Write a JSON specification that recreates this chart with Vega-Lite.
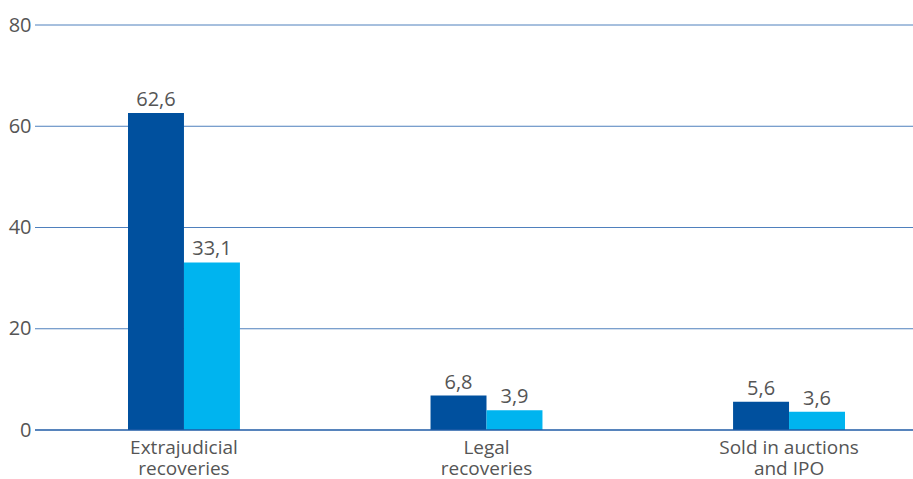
{
  "$schema": "https://vega.github.io/schema/vega-lite/v6.json",
  "width": 878,
  "height": 405,
  "autosize": {"type": "none"},
  "padding": {"left": 35, "top": 25, "right": 0, "bottom": 49},
  "background": "white",
  "datasets": {
    "bars": [
      {"category": "Extrajudicial|recoveries", "series": "A", "value": 62.6},
      {"category": "Extrajudicial|recoveries", "series": "B", "value": 33.1},
      {"category": "Legal|recoveries", "series": "A", "value": 6.8},
      {"category": "Legal|recoveries", "series": "B", "value": 3.9},
      {"category": "Sold in auctions|and IPO", "series": "A", "value": 5.6},
      {"category": "Sold in auctions|and IPO", "series": "B", "value": 3.6}
    ],
    "grid": [{"v": 20}, {"v": 40}, {"v": 60}, {"v": 80}],
    "base": [{"v": 0}]
  },
  "layer": [
    {
      "data": {"name": "grid"},
      "mark": {"type": "rule", "color": "#4F80BD", "strokeWidth": 1},
      "encoding": {
        "y": {
          "field": "v",
          "type": "quantitative",
          "title": null,
          "scale": {"domain": [0, 80]},
          "axis": {
            "values": [0, 20, 40, 60, 80],
            "domain": false,
            "ticks": false,
            "grid": false,
            "labelPadding": 4,
            "labelFontSize": 20,
            "labelColor": "#555555",
            "labelFont": "Open Sans"
          }
        }
      }
    },
    {
      "data": {"name": "bars"},
      "encoding": {
        "x": {
          "field": "category",
          "type": "nominal",
          "sort": null,
          "title": null,
          "scale": {"paddingInner": 0.63, "paddingOuter": 0, "range": [93, 810]},
          "axis": {
            "labelAngle": 0,
            "labelExpr": "split(datum.label, '|')",
            "labelFontSize": 19,
            "labelLineHeight": 21,
            "labelPadding": 8,
            "labelColor": "#555555",
            "labelFont": "Open Sans",
            "ticks": false,
            "domain": false
          }
        },
        "xOffset": {"field": "series", "type": "nominal", "sort": ["A", "B"]},
        "y": {"field": "value", "type": "quantitative"}
      },
      "layer": [
        {
          "mark": {"type": "bar"},
          "encoding": {
            "color": {
              "field": "series",
              "type": "nominal",
              "legend": null,
              "scale": {"domain": ["A", "B"], "range": ["#00509E", "#00B4EF"]}
            }
          }
        },
        {
          "mark": {"type": "text", "dy": -13, "fontSize": 20, "font": "Open Sans", "color": "#555555"},
          "encoding": {
            "text": {"field": "value", "type": "quantitative", "format": ".1f"}
          }
        }
      ]
    },
    {
      "data": {"name": "base"},
      "mark": {"type": "rule", "color": "#1F5BA6", "strokeWidth": 1.5},
      "encoding": {
        "y": {"field": "v", "type": "quantitative"}
      }
    }
  ],
  "config": {
    "view": {"stroke": null},
    "locale": {
      "number": {"decimal": ",", "thousands": ".", "grouping": [3], "currency": ["", ""]}
    }
  }
}
